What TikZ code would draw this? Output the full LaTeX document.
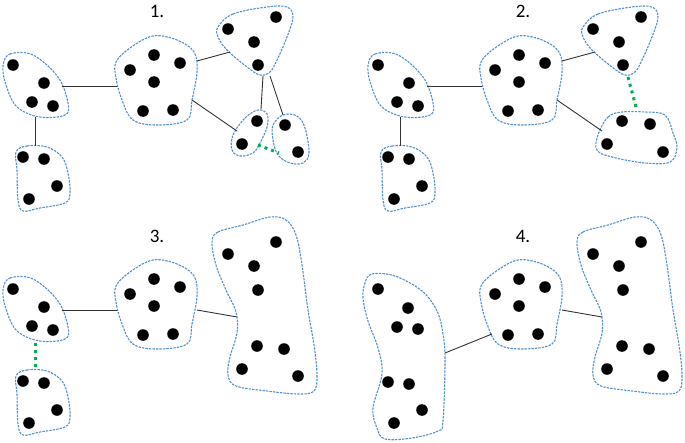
\documentclass[tikz,border=0pt]{standalone}
\usepackage{fontspec}
\setmainfont{Carlito}
\definecolor{blobblue}{RGB}{80,145,208}
\definecolor{linkgreen}{RGB}{0,176,80}
\begin{document}
\begin{tikzpicture}[x=1pt,y=-1pt,
  blob/.style={draw=blobblue,line width=1.1pt,dash pattern=on 2.4pt off 1.1pt},
  pt/.style={fill=black},
  link/.style={draw=black!80,line width=0.9pt},
  glink/.style={draw=linkgreen,line width=3pt,dash pattern=on 3pt off 4pt},
  lbl/.style={font=\fontsize{19}{19}\selectfont,inner sep=0pt}]
\useasboundingbox (0,0) rectangle (685,442);
\def\r{5.8}
% ---------- reusable pieces ----------
\newcommand{\blobA}{%
  \draw[blob] plot[smooth cycle,tension=0.6] coordinates {(3,66) (10,54) (33,55) (58,77) (68,103) (65,115) (40,117) (17,107) (6,85)};
  \foreach \p in {(13,65),(44,83),(32,102),(53,106)} \fill[pt] \p circle (\r);}
\newcommand{\blobB}{%
  \draw[blob] plot[smooth cycle,tension=0.6] coordinates {(16,152) (27,146) (47,147) (62,157) (68,173) (70,193) (65,203) (40,208) (23,211) (18,200) (17,170)};
  \foreach \p in {(23,157),(44,159),(57,186),(29,199)} \fill[pt] \p circle (\r);}
\newcommand{\blobC}{%
  \draw[blob] plot[smooth cycle,tension=0.6] coordinates {(116,62) (130,48) (153,36) (177,40) (194,52) (197,72) (192,100) (187,120) (157,125) (133,120) (122,100) (116,78)};
  \foreach \p in {(154,55),(180,63),(130,70),(154,82),(143,111),(173,110)} \fill[pt] \p circle (\r);}
\newcommand{\blobD}{%
  \draw[blob] plot[smooth cycle,tension=0.6] coordinates {(218,27) (233,14) (267,7) (287,7) (293,17) (287,37) (277,60) (270,72) (260,75) (247,67) (227,50) (218,37)};
  \foreach \p in {(276,17),(228,29),(254,42),(258,65)} \fill[pt] \p circle (\r);}
\newcommand{\blobG}{%
  \draw[blob] plot[smooth cycle,tension=0.6] coordinates {(212,242) (218,232) (243,225) (270,217) (286,220) (296,235) (302,265) (308,310) (314,345) (317,375) (314,391) (298,394) (267,391) (236,386) (228,375) (230,357) (237,333) (236,312) (226,290) (216,265)};
  \foreach \p in {(228,254),(276,242),(254,266),(258,290),(257,346),(284,349),(242,369),(298,376)} \fill[pt] \p circle (\r);}
% ---------- panel 1 ----------
\node[lbl] (l1) at (157,11) {1.};
\blobA \blobB \blobC \blobD
\draw[blob] plot[smooth cycle,tension=0.6] coordinates {(233,135) (245,118) (258,110) (267,114) (267,127) (260,143) (253,153) (240,156) (232,150)};
\foreach \p in {(257,121),(242,144)} \fill[pt] \p circle (\r);
\draw[blob] plot[smooth cycle,tension=0.6] coordinates {(273,125) (283,115) (297,116) (305,128) (309,153) (303,163) (290,163) (278,155) (273,140)};
\foreach \p in {(285,125),(298,152)} \fill[pt] \p circle (\r);
\draw[link] (35,117) -- (35,146);
\draw[link] (62,86) -- (117,86);
\draw[link] (197,61) -- (230,52);
\draw[link] (192,100) -- (237,131);
\draw[link] (263,76) -- (261,109);
\draw[link] (270,76) -- (283,115);
\draw[glink] (258,145) -- (279,153);
% ---------- panel 2 ----------
\node[lbl] (l2) at (523,11) {2.};
\begin{scope}[shift={(365,0)}]
\blobA \blobB \blobC \blobD
\draw[link] (35,117) -- (35,146);
\draw[link] (62,86) -- (117,86);
\draw[link] (197,61) -- (230,52);
\end{scope}
\draw[blob] plot[smooth cycle,tension=0.6] coordinates {(598,135) (608,117) (622,112) (645,112) (665,115) (673,133) (677,148) (670,162) (645,163) (612,157) (597,150)};
\foreach \p in {(622,121),(650,124),(607,144),(663,152)} \fill[pt] \p circle (\r);
\draw[link] (557,100) -- (602,131);
\draw[glink] (628,77) -- (636,107);
% ---------- panel 3 ----------
\node[lbl] (l3) at (157,236) {3.};
\begin{scope}[shift={(0,224)}]
\blobA \blobB \blobC
\draw[link] (62,86) -- (117,86);
\end{scope}
\blobG
\draw[glink] (35,343) -- (35,367);
\draw[link] (197,310) -- (237,317);
% ---------- panel 4 ----------
\node[lbl] (l4) at (523,236) {4.};
\draw[blob] plot[smooth cycle,tension=0.6] coordinates {(365,283) (372,274) (395,276) (422,291) (437,311) (443,334) (445,361) (443,421) (438,431) (412,438) (385,439) (377,428) (373,408) (382,374) (378,348) (368,321) (363,298)};
\foreach \p in {(378,289),(408,308),(397,327),(418,329),(388,382),(409,384),(422,410),(394,423)} \fill[pt] \p circle (\r);
\begin{scope}[shift={(365,224)}]
\blobC
\end{scope}
\begin{scope}[shift={(365,0)}]
\blobG
\draw[link] (197,310) -- (237,317);
\end{scope}
\draw[link] (445,353) -- (492,334);
\end{tikzpicture}
\end{document}
